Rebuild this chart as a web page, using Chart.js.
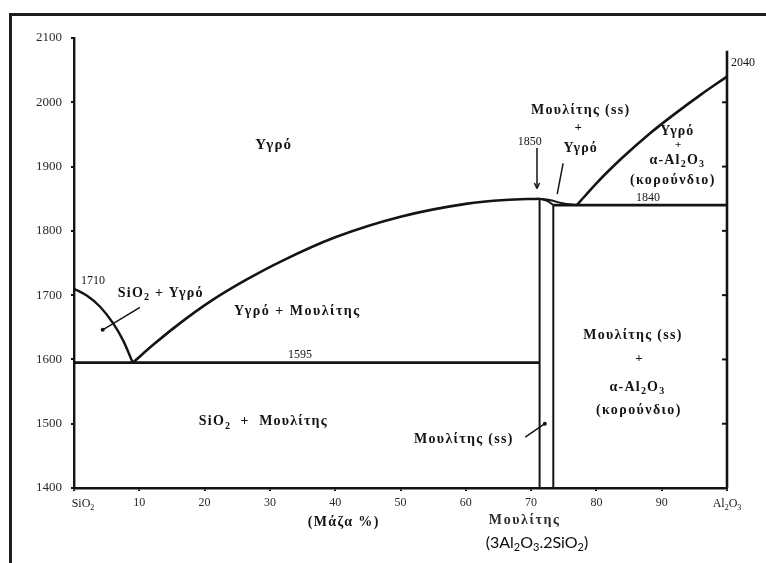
<!DOCTYPE html>
<html>
<head>
<meta charset="utf-8">
<script src="https://cdn.jsdelivr.net/npm/chart.js@4/dist/chart.umd.min.js"></script>
<style>
  html, body { margin: 0; padding: 0; background: #fff; }
  canvas { display: block; }
</style>
</head>
<body>
<canvas id="c" width="766" height="563"></canvas>
<script>
// Composition axis: wt% Al2O3 (0 = pure SiO2, 100 = pure Al2O3); temperature in °C
const compTicks = [0, 10, 20, 30, 40, 50, 60, 70, 80, 90, 100];
const compTickLabels = ['SiO_2', '10', '20', '30', '40', '50', '60', '70', '80', '90', 'Al_2O_3'];
const tempTicks = [1400, 1500, 1600, 1700, 1800, 1900, 2000, 2100];

// Phase boundaries as [wt% Al2O3, °C]
const liquidusSilica = [[0, 1710], [2, 1699], [4, 1682], [6, 1656], [7.5, 1630], [9, 1595]];
const liquidusMullite = [[9, 1595], [12.4, 1625], [15.8, 1653], [21, 1691], [26.4, 1724], [31.8, 1753],
                         [40, 1790], [50, 1822], [60, 1842], [66, 1848], [71.3, 1850]];
const liquidusMulliteHigh = [[71.3, 1850], [72.8, 1848], [74.8, 1843], [77, 1840]];
const solidusMullite = [[71.3, 1850], [72.6, 1846], [73.4, 1840]];
const mulliteLow = [[71.3, 1400], [71.3, 1850]];
const mulliteHigh = [[73.4, 1400], [73.4, 1840]];
const eutecticSilica = [[0, 1595], [71.3, 1595]];
const eutecticAlumina = [[73.4, 1840], [100, 1840]];
const liquidusAlumina = [[77, 1840], [80, 1874], [84, 1914], [88, 1950], [92, 1982], [96, 2012], [100, 2040]];
const aluminaEdge = [[100, 1400], [100, 2080]];

const ink = '#141414';
const serif = "'Liberation Serif', 'DejaVu Serif', serif";

// Split "Al_2O_3" style strings into normal / subscript runs
function runs(str) {
  const out = [];
  let i = 0;
  while (i < str.length) {
    if (str[i] === '_') { out.push({ t: str[i + 1], sub: true }); i += 2; }
    else {
      let j = i;
      while (j < str.length && str[j] !== '_') j++;
      out.push({ t: str.slice(i, j), sub: false });
      i = j;
    }
  }
  return out;
}

function drawRich(ctx, str, x, y, o) {
  o = o || {};
  const size = o.size || 14, fam = o.family || serif, w = o.weight || 'bold';
  const subSize = Math.round(size * 0.7);
  const parts = runs(str);
  ctx.save();
  ctx.fillStyle = o.color || ink;
  ctx.textBaseline = 'middle';
  ctx.textAlign = 'left';
  const sp = o.spacing || 0;
  if ('letterSpacing' in ctx) ctx.letterSpacing = sp + 'px';
  let total = 0;
  parts.forEach(p => {
    ctx.font = `${w} ${p.sub ? subSize : size}px ${fam}`;
    p.w = ctx.measureText(p.t).width;
    total += p.w;
  });
  total -= sp;
  let cx = o.align === 'left' ? x : o.align === 'right' ? x - total : x - total / 2;
  parts.forEach(p => {
    ctx.font = `${w} ${p.sub ? subSize : size}px ${fam}`;
    ctx.fillText(p.t, cx, p.sub ? y + size * 0.3 : y);
    cx += p.w;
  });
  ctx.restore();
}

// Phase-field names and isotherm values, placed in data coordinates
const fieldLabels = [
  { text: 'Υγρό', at: [30.5, 1933], size: 15, spacing: 1.2 },
  { text: '1710', at: [2.9, 1722], size: 12, weight: 'normal' },
  { text: 'SiO_2 + Υγρό', at: [13.2, 1703], size: 14, spacing: 1.2 },
  { text: 'Υγρό + Μουλίτης', at: [34.1, 1674], size: 14, spacing: 1.5 },
  { text: '1595', at: [34.6, 1607], size: 12, weight: 'normal' },
  { text: 'SiO_2  +  Μουλίτης', at: [28.9, 1503], size: 14, spacing: 1.2 },
  { text: 'Μουλίτης (ss)', at: [59.6, 1475], size: 14, spacing: 1.3 },
  { text: 'Μουλίτης (ss)', at: [85.5, 1638], size: 14, spacing: 1.3 },
  { text: '+', at: [86.5, 1601], size: 13 },
  { text: 'α-Al_2O_3', at: [86.2, 1556], size: 14, spacing: 1.2 },
  { text: '(κορούνδιο)', at: [86.4, 1521], size: 14, spacing: 1.4 },
  { text: 'Μουλίτης (ss)', at: [77.5, 1988], size: 14, spacing: 1.3 },
  { text: '+', at: [77.2, 1960], size: 13 },
  { text: 'Υγρό', at: [77.5, 1929], size: 14, spacing: 1 },
  { text: '1850', at: [69.8, 1938], size: 12, weight: 'normal' },
  { text: 'Υγρό', at: [92.3, 1954], size: 14, spacing: 1 },
  { text: '+', at: [92.5, 1933], size: 11 },
  { text: 'α-Al_2O_3', at: [92.3, 1910], size: 14, spacing: 1.2 },
  { text: '(κορούνδιο)', at: [91.6, 1879], size: 14, spacing: 1.4 },
  { text: '1840', at: [87.9, 1851], size: 12, weight: 'normal' },
  { text: '2040', at: [100.6, 2061], size: 12, weight: 'normal', align: 'left' }
];

// Leader lines from labels to the fields they name
const leaders = [
  { from: [70.9, 1929], to: [70.9, 1866], end: 'arrow' },
  { from: [10.1, 1681], to: [4.4, 1646], end: 'dot' },
  { from: [74.9, 1905], to: [74.0, 1857], end: 'none' },
  { from: [69.1, 1479], to: [72.1, 1500], end: 'dot' }
];

const pts = a => a.map(([x, y]) => ({ x, y }));
const boundary = (a, curved, width) => ({
  data: pts(a), showLine: true, borderColor: ink, borderWidth: width || 2.4,
  pointRadius: 0, tension: curved ? 0.4 : 0,
  cubicInterpolationMode: curved ? 'monotone' : 'default', fill: false, clip: false
});

const diagramPlugin = {
  id: 'diagram',
  beforeDraw(chart) {
    const ctx = chart.ctx;
    ctx.save();
    ctx.fillStyle = '#fff';
    ctx.fillRect(0, 0, chart.width, chart.height);
    ctx.strokeStyle = '#1e1e1e';
    ctx.lineWidth = 3;
    ctx.beginPath();
    ctx.moveTo(10.5, chart.height);
    ctx.lineTo(10.5, 14.5);
    ctx.lineTo(chart.width, 14.5);
    ctx.stroke();
    ctx.restore();
  },
  afterDraw(chart) {
    const { ctx, scales: { x, y }, chartArea } = chart;
    const px = v => x.getPixelForValue(v), py = v => y.getPixelForValue(v);

    // Tick marks on the Al2O3 side, pointing inward
    ctx.save();
    ctx.strokeStyle = ink;
    ctx.lineWidth = 2;
    tempTicks.slice(1, -1).forEach(t => {
      ctx.beginPath();
      ctx.moveTo(px(100) - 5, py(t));
      ctx.lineTo(px(100), py(t));
      ctx.stroke();
    });
    ctx.restore();

    fieldLabels.forEach(l => drawRich(ctx, l.text, px(l.at[0]), py(l.at[1]), {
      size: l.size, spacing: l.spacing, weight: l.weight, align: l.align
    }));

    ctx.save();
    ctx.strokeStyle = ink;
    ctx.fillStyle = ink;
    ctx.lineWidth = 1.5;
    leaders.forEach(l => {
      const x0 = px(l.from[0]), y0 = py(l.from[1]), x1 = px(l.to[0]), y1 = py(l.to[1]);
      ctx.beginPath();
      ctx.moveTo(x0, y0);
      ctx.lineTo(x1, y1);
      ctx.stroke();
      if (l.end === 'dot') {
        ctx.beginPath();
        ctx.arc(x1, y1, 2, 0, Math.PI * 2);
        ctx.fill();
      } else if (l.end === 'arrow') {
        const a = Math.atan2(y1 - y0, x1 - x0);
        ctx.beginPath();
        ctx.moveTo(x1, y1);
        ctx.lineTo(x1 - 6 * Math.cos(a - 0.45), y1 - 6 * Math.sin(a - 0.45));
        ctx.moveTo(x1, y1);
        ctx.lineTo(x1 - 6 * Math.cos(a + 0.45), y1 - 6 * Math.sin(a + 0.45));
        ctx.stroke();
      }
    });
    ctx.restore();

    // End-member names and axis captions under the composition axis
    const base = chartArea.bottom;
    drawRich(ctx, compTickLabels[0], px(compTicks[0]) + 9, base + 16, { size: 12, weight: 'normal' });
    drawRich(ctx, compTickLabels[compTickLabels.length - 1], px(compTicks[compTicks.length - 1]), base + 16, { size: 12, weight: 'normal' });
    drawRich(ctx, '(Μάζα %)', px(41.2), base + 34, { size: 14, spacing: 1.4 });
    drawRich(ctx, 'Μουλίτης', px(68.9), base + 32, { size: 14, spacing: 1.6, color: '#2e2e2e' });
    drawRich(ctx, '(3Al_2O_3.2SiO_2)', px(70.9), base + 55, { size: 16, family: "Lato, 'Open Sans', sans-serif", weight: 'normal', color: '#0c0c0c' });
  }
};

new Chart(document.getElementById('c'), {
  type: 'scatter',
  data: {
    datasets: [
      boundary(liquidusSilica, true, 2.4),
      boundary(liquidusMullite, true, 2.6),
      boundary(liquidusMulliteHigh, true, 2),
      boundary(solidusMullite, true, 2),
      boundary(mulliteLow, false, 2),
      boundary(mulliteHigh, false, 2),
      boundary(eutecticSilica, false, 2.6),
      boundary(eutecticAlumina, false, 2.6),
      boundary(liquidusAlumina, true, 2.6),
      boundary(aluminaEdge, false, 2.6)
    ]
  },
  options: {
    responsive: false,
    devicePixelRatio: 1,
    animation: false,
    events: [],
    layout: { padding: { left: 14, right: 39, top: 38, bottom: 0 } },
    plugins: { legend: { display: false }, tooltip: { enabled: false } },
    scales: {
      x: {
        type: 'linear', min: 0, max: 100,
        afterBuildTicks: s => { s.ticks = compTicks.map(v => ({ value: v })); },
        afterFit: s => { s.height = 75; },
        ticks: {
          autoSkip: false, maxRotation: 0, padding: 5, color: '#2a2a2a',
          font: { family: serif, size: 12 },
          callback: (v, i) => (compTickLabels[i].includes('_') ? '' : compTickLabels[i])
        },
        grid: { drawOnChartArea: false, tickLength: 3, color: ink, lineWidth: 2 },
        border: { display: true, color: ink, width: 2.4 }
      },
      y: {
        type: 'linear', min: 1400, max: 2100,
        afterBuildTicks: s => { s.ticks = tempTicks.map(v => ({ value: v })); },
        afterFit: s => { s.width = 60; },
        ticks: {
          padding: 9, color: '#2a2a2a',
          font: { family: serif, size: 13 },
          callback: v => String(v)
        },
        grid: { drawOnChartArea: false, tickLength: 3, color: ink, lineWidth: 2 },
        border: { display: true, color: ink, width: 2.4 }
      }
    }
  },
  plugins: [diagramPlugin]
});
</script>
</body>
</html>
